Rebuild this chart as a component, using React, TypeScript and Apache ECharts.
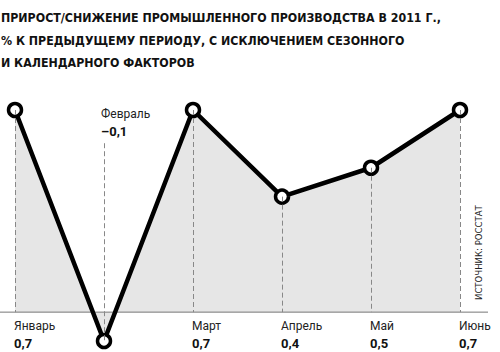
import React, { useEffect, useRef } from "react";
import * as echarts from "echarts";

const months = ["Январь", "Февраль", "Март", "Апрель", "Май", "Июнь"];
const values = [0.7, -0.1, 0.7, 0.4, 0.5, 0.7];
const valueLabels = ["0,7", "–0,1", "0,7", "0,4", "0,5", "0,7"];
const topLabelIndex = 1; // Февраль label is drawn above the chart
const topLabelLineValue = 0.585;
const titleLines = [
  "ПРИРОСТ/СНИЖЕНИЕ ПРОМЫШЛЕННОГО ПРОИЗВОДСТВА В 2011 Г.,",
  "% К ПРЕДЫДУЩЕМУ ПЕРИОДУ, С ИСКЛЮЧЕНИЕМ СЕЗОННОГО",
  "И КАЛЕНДАРНОГО ФАКТОРОВ",
];
const sourceText = "ИСТОЧНИК: РОССТАТ";

const labelRich = {
  n: { fontFamily: "Roboto", fontSize: 12, color: "#222", lineHeight: 17 },
  v: { fontFamily: "Roboto", fontSize: 13, fontWeight: "bold", color: "#111", lineHeight: 19 },
};

export default function App() {
  const ref = useRef<HTMLDivElement>(null);
  useEffect(() => {
    if (!ref.current) return;
    const chart = echarts.init(ref.current, null, { renderer: "svg" });
    const markData = values.map((v, i) =>
      i === topLabelIndex
        ? [{ coord: [i, topLabelLineValue] }, { coord: [i, v] }]
        : [{ coord: [i, v] }, { coord: [i, 0] }]
    );
    const labelPoints = months.map((m, i) =>
      i === topLabelIndex
        ? {
            coord: [i, topLabelLineValue],
            label: {
              show: true,
              position: "top",
              align: "left",
              distance: 2,
              offset: [-3, 0],
              formatter: `{n|${m}}\n{v|${valueLabels[i]}}`,
              rich: labelRich,
            },
          }
        : {
            coord: [i, 0],
            label: {
              show: true,
              position: "bottom",
              align: "left",
              distance: 4,
              offset: [-1, 1],
              formatter: `{n|${m}}\n{v|${valueLabels[i]}}`,
              rich: labelRich,
            },
          }
    );
    chart.setOption({
      animation: false,
      title: {
        text: titleLines.join("\n"),
        left: 1,
        top: 7,
        padding: 0,
        textStyle: {
          fontFamily: "DejaVu Sans Condensed",
          fontSize: 12.3,
          fontWeight: "bold",
          color: "#111",
          lineHeight: 22.5,
        },
      },
      grid: { left: 15, right: 40, top: 110, bottom: 11, outerBoundsMode: "none", containLabel: false },
      xAxis: {
        type: "category",
        data: months,
        boundaryGap: false,
        show: false,
      },
      yAxis: {
        type: "value",
        min: -0.1,
        max: 0.7,
        show: false,
      },
      series: [
        {
          type: "line",
          data: values,
          z: 0,
          symbol: "none",
          lineStyle: { width: 0 },
          areaStyle: { color: "#e6e6e6", opacity: 1 },
          silent: true,
        },
        {
          type: "line",
          data: values,
          z: 1,
          symbol: "none",
          lineStyle: { width: 0, opacity: 0 },
          markLine: {
            silent: true,
            symbol: "none",
            label: { show: false },
            lineStyle: { color: "#888", width: 1, type: [5, 3] },
            data: markData,
          },
          markPoint: {
            symbol: "rect",
            symbolSize: 0,
            silent: true,
            data: labelPoints,
          },
        },
        {
          type: "line",
          data: values,
          z: 3,
          symbol: "circle",
          symbolSize: 13,
          lineStyle: { color: "#000", width: 4.5 },
          itemStyle: { color: "#fff", borderColor: "#000", borderWidth: 3.5 },
        },
      ],
    });
    const y0 = chart.convertToPixel({ yAxisIndex: 0 }, 0) as number;
    chart.setOption({
      graphic: [
        {
          type: "line",
          shape: { x1: 0, y1: y0, x2: 488, y2: y0 },
          style: { stroke: "#777", lineWidth: 1 },
          z: 2,
        },
        {
          type: "text",
          x: 473,
          y: 300,
          rotation: Math.PI / 2,
          style: {
            text: sourceText,
            fontFamily: "DejaVu Sans Condensed",
            fontSize: 9.5,
            fill: "#222",
            align: "left",
            verticalAlign: "top",
          },
        },
      ],
    });
    return () => chart.dispose();
  }, []);
  return (
    <div
      ref={ref}
      style={{ position: "absolute", left: 0, top: 0, width: 500, height: 352 }}
    />
  );
}
